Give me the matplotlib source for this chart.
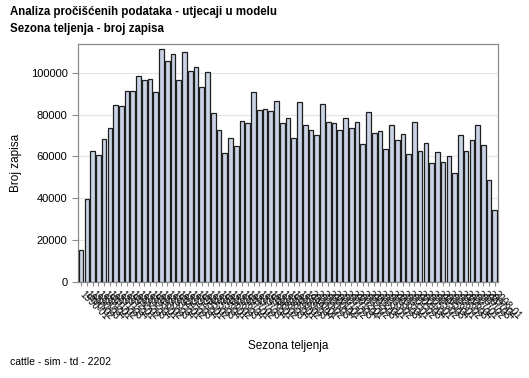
import matplotlib
matplotlib.use("Agg")
import matplotlib.pyplot as plt
import numpy as np

# broj zapisa po sezoni teljenja (ocitano sa slike)
counts = [15400, 39600, 62400, 60600, 68300, 73700, 84700, 83900, 91400, 91400,
          98400, 96300, 97000, 90900, 111300, 105700, 108900, 96600, 110000, 100600,
          102800, 93100, 100500, 80900, 72800, 61600, 68600, 64800, 76900, 76100,
          90900, 82300, 82800, 81700, 86400, 76100, 78500, 68600, 86100, 75100,
          72800, 70400, 85000, 76600, 76100, 72800, 78500, 73700, 76600, 65700,
          81300, 71300, 72300, 63500, 74800, 68000, 70700, 61000, 76600, 62700,
          66500, 57000, 62200, 57500, 60300, 52200, 70000, 62400, 68000, 74800,
          65400, 48700, 34400]
years = list(range(1990, 2009))
seasons = [1, 2, 3, 4]
labels = ["%d-%02d" % (y, s) for y in years for s in seasons][:len(counts)]

yticks = [0, 20000, 40000, 60000, 80000, 100000]

plt.rcParams['font.family'] = ['Liberation Sans', 'DejaVu Sans']

fig = plt.figure(figsize=(5.29, 3.78), dpi=100)
ax = fig.add_axes([0.1474, 0.254, 0.794, 0.6296])

x = np.arange(len(counts))
ax.bar(x, counts, width=0.82, color='#c9d3e3', edgecolor='#1e1e1e', linewidth=0.9, zorder=3)

ax.set_xlim(-0.55, len(counts) - 0.45)
ax.set_ylim(0, 113700)
ax.set_yticks(yticks)
ax.set_yticklabels([str(v) for v in yticks], fontsize=8)
ax.set_xticks(x)
ax.set_xticklabels(labels, rotation=-45, ha='left', va='center', rotation_mode='anchor', fontsize=7)

ax.grid(True, axis='y', color='#e4e4e4', linewidth=0.8, zorder=0)
for s in ax.spines.values():
    s.set_color('#8c8c8c')
    s.set_linewidth(0.9)
ax.tick_params(axis='both', colors='#8c8c8c', length=4, width=0.8, labelcolor='black')
ax.tick_params(axis='x', length=3, pad=5)

ax.set_ylabel('Broj zapisa', fontsize=8.5, labelpad=6)
ax.set_xlabel('Sezona teljenja', fontsize=8.5, labelpad=13)

fig.text(10 / 529, 1 - 12 / 378, u'Analiza pročišćenih podataka - utjecaji u modelu',
         fontsize=8.3, fontweight='bold', va='center', ha='left')
fig.text(10 / 529, 1 - 29 / 378, 'Sezona teljenja - broj zapisa',
         fontsize=8.3, fontweight='bold', va='center', ha='left')
fig.text(10 / 529, 1 - 362 / 378, 'cattle - sim - td - 2202',
         fontsize=7.5, va='center', ha='left')

fig.savefig('out.png', dpi=100)
